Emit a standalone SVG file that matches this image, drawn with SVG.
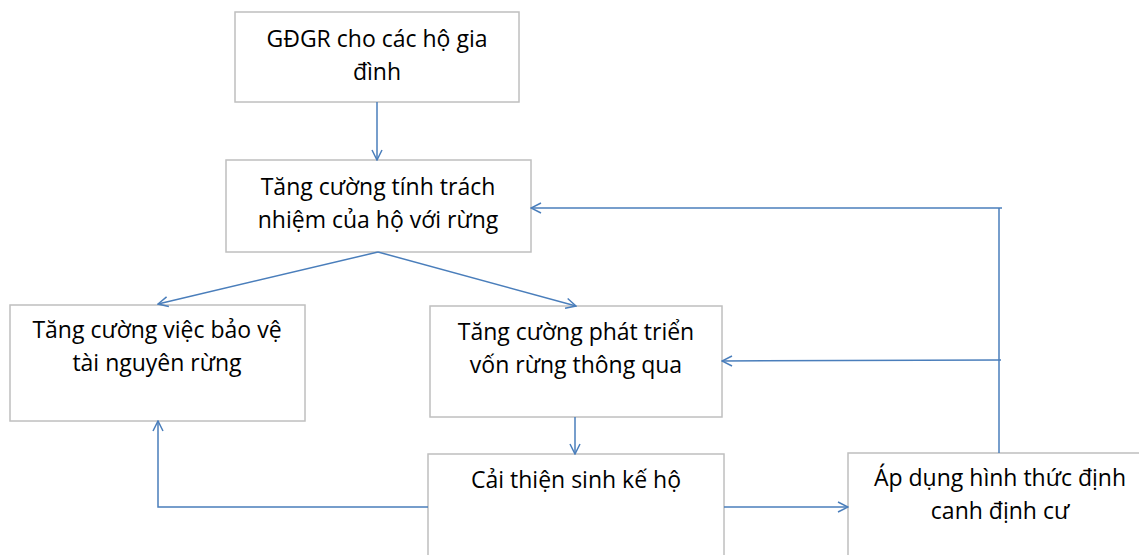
<svg xmlns="http://www.w3.org/2000/svg" width="1139" height="555" viewBox="0 0 1139 555">
<style>
.box{fill:#fff;stroke:#bfbfbf;stroke-width:1.5}
.t{font-family:"Open Sans","Noto Sans",sans-serif;font-size:23px;fill:#000;text-anchor:middle}
.c{fill:none;stroke:#4a7ebb;stroke-width:1.5}
</style>
<defs>
<marker id="a" viewBox="0 0 12 12" refX="11" refY="6" markerWidth="12" markerHeight="12" markerUnits="userSpaceOnUse" orient="auto">
<path d="M1,1 L11,6 L1,11" fill="none" stroke="#4a7ebb" stroke-width="1.5"/>
</marker>
</defs>
<rect width="1139" height="555" fill="#fff"/>
<g id="n1"><rect class="box" x="235" y="12" width="284" height="90"/><text class="t" x="377" y="47">GĐGR cho các hộ gia</text><text class="t" x="377" y="80">đình</text></g>
<g id="n2"><rect class="box" x="226" y="160" width="305" height="92"/><text class="t" x="378" y="195">Tăng cường tính trách</text><text class="t" x="378" y="228">nhiệm của hộ với rừng</text></g>
<g id="n3"><rect class="box" x="10" y="305" width="295" height="116"/><text class="t" x="157" y="338">Tăng cường việc bảo vệ</text><text class="t" x="157" y="371">tài nguyên rừng</text></g>
<g id="n4"><rect class="box" x="430" y="306" width="292" height="111"/><text class="t" x="576" y="340">Tăng cường phát triển</text><text class="t" x="576" y="373">vốn rừng thông qua</text></g>
<g id="n5"><rect class="box" x="428" y="454" width="296" height="120"/><text class="t" x="576" y="488">Cải thiện sinh kế hộ</text></g>
<g id="n6"><rect class="box" x="848" y="453" width="310" height="120"/><text class="t" x="1000" y="486">Áp dụng hình thức định</text><text class="t" x="1000" y="519">canh định cư</text></g>
<g id="connectors">
<line class="c" x1="377" y1="102" x2="377" y2="160" marker-end="url(#a)"/>
<line class="c" x1="378" y1="252" x2="158" y2="304" marker-end="url(#a)"/>
<line class="c" x1="378" y1="252" x2="576" y2="306" marker-end="url(#a)"/>
<line class="c" x1="575" y1="417" x2="575" y2="454" marker-end="url(#a)"/>
<line class="c" x1="724" y1="507" x2="848" y2="507" marker-end="url(#a)"/>
<polyline class="c" points="428,507 158,507 158,421" marker-end="url(#a)"/>
<line class="c" x1="999" y1="453" x2="999" y2="208"/>
<line class="c" x1="1002" y1="208" x2="531" y2="208" marker-end="url(#a)"/>
<line class="c" x1="1001" y1="360" x2="722" y2="361" marker-end="url(#a)"/>
</g>
</svg>
